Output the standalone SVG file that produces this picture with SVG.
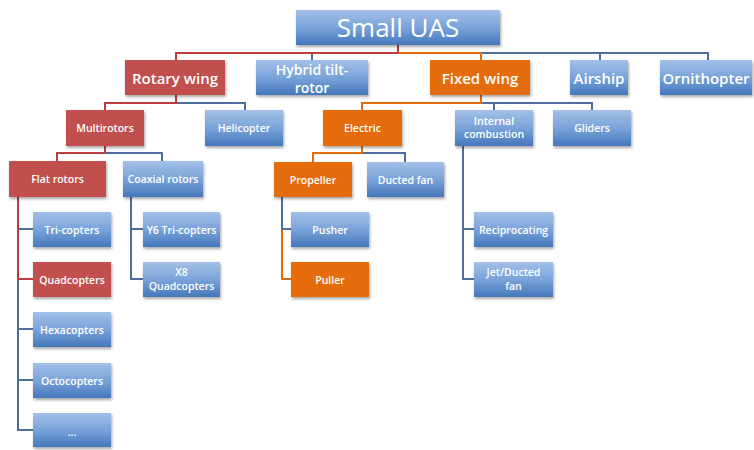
<svg xmlns="http://www.w3.org/2000/svg" width="754" height="450" viewBox="0 0 754 450">
<defs>
<linearGradient id="gb" x1="0" y1="0" x2="0" y2="1">
<stop offset="0" stop-color="#A3C0E8"/>
<stop offset="0.5" stop-color="#7AA3D9"/>
<stop offset="1" stop-color="#4478BC"/>
</linearGradient>
<filter id="sh" x="-10%" y="-10%" width="130%" height="140%">
<feGaussianBlur in="SourceAlpha" stdDeviation="1.5"/>
<feOffset dx="1" dy="2" result="b"/>
<feComponentTransfer><feFuncA type="linear" slope="0.35"/></feComponentTransfer>
<feMerge><feMergeNode/><feMergeNode in="SourceGraphic"/></feMerge>
</filter>
</defs>
<style>
.b{fill:url(#gb);filter:url(#sh)}
.r{fill:#C0504D;filter:url(#sh)}
.o{fill:#E46C0A;filter:url(#sh)}
text{font-family:"Open Sans",Lato,"Liberation Sans",sans-serif;font-weight:600;fill:#fff;text-anchor:middle;dominant-baseline:central}
.t0{font-size:26px;font-weight:400}
.t1{font-size:15px}
.t1s{font-size:14px}
.t2{font-size:10.5px}
.lr,.lo,.lb{fill:none;stroke-width:2}
.lr{stroke:#BE3C3C}
.lo{stroke:#E46C0A}
.lb{stroke:#4E6E9E}
</style>
<rect width="754" height="450" fill="#fff"/>
<g id="connectors">
<path class="lb" d="M312 53V60M481 53H708V60M600 53V60"/>
<path class="lo" d="M398 53H481V60"/>
<path class="lr" d="M398 44V53H176V60"/>
<path class="lb" d="M176 103H245V110"/>
<path class="lr" d="M176 95V103H105V110"/>
<path class="lb" d="M481 103H592V110M494 103V110"/>
<path class="lo" d="M481 95V103H362V110"/>
<path class="lb" d="M105 153H162V161"/>
<path class="lr" d="M105 146V153H57V161"/>
<path class="lb" d="M362 153H405V162"/>
<path class="lo" d="M362 146V153H313V162"/>
<path class="lb" d="M18 279V430H33M18 229H33M18 329H33M18 380H33"/>
<path class="lr" d="M18 197V279H33"/>
<path class="lb" d="M131 197V279H143M131 229H143"/>
<path class="lo" d="M282 229V279H291"/>
<path class="lb" d="M282 197V229H291"/>
<path class="lb" d="M463 146V279H474M463 229H474"/>
</g>
<g id="n-root"><rect class="b" x="296" y="10" width="204" height="35"/><text class="t0" x="398" y="27">Small UAS</text></g>
<g id="n-rotary"><rect class="r" x="125" y="60" width="100" height="35"/><text class="t1" x="175" y="77.5">Rotary wing</text></g>
<g id="n-hybrid"><rect class="b" x="256" y="60" width="112" height="35"/><text class="t1s" x="312" y="69">Hybrid tilt-</text><text class="t1s" x="312" y="87">rotor</text></g>
<g id="n-fixed"><rect class="o" x="430" y="60" width="100" height="35"/><text class="t1" x="480" y="77.5">Fixed wing</text></g>
<g id="n-airship"><rect class="b" x="570" y="60" width="58" height="35"/><text class="t1" x="599" y="77.5">Airship</text></g>
<g id="n-ornithopter"><rect class="b" x="660" y="60" width="92" height="35"/><text class="t1" x="706" y="77.5">Ornithopter</text></g>
<g id="n-multirotors"><rect class="r" x="66" y="110" width="78" height="36"/><text class="t2" x="105" y="128">Multirotors</text></g>
<g id="n-helicopter"><rect class="b" x="205" y="110" width="78" height="36"/><text class="t2" x="244" y="128">Helicopter</text></g>
<g id="n-electric"><rect class="o" x="323" y="110" width="79" height="36"/><text class="t2" x="362.5" y="128">Electric</text></g>
<g id="n-internal"><rect class="b" x="455" y="110" width="78" height="36"/><text class="t2" x="494" y="121">Internal</text><text class="t2" x="494" y="134">combustion</text></g>
<g id="n-gliders"><rect class="b" x="553" y="110" width="78" height="36"/><text class="t2" x="592" y="128">Gliders</text></g>
<g id="n-flat"><rect class="r" x="9" y="161" width="97" height="36"/><text class="t2" x="57.5" y="179">Flat rotors</text></g>
<g id="n-coaxial"><rect class="b" x="123" y="161" width="80" height="36"/><text class="t2" x="163" y="179">Coaxial rotors</text></g>
<g id="n-propeller"><rect class="o" x="274" y="162" width="78" height="35"/><text class="t2" x="313" y="179.5">Propeller</text></g>
<g id="n-ducted"><rect class="b" x="367" y="162" width="77" height="35"/><text class="t2" x="405.5" y="179.5">Ducted fan</text></g>
<g id="n-tri"><rect class="b" x="33" y="212" width="78" height="35"/><text class="t2" x="72" y="229.5">Tri-copters</text></g>
<g id="n-quad"><rect class="r" x="33" y="262" width="78" height="35"/><text class="t2" x="72" y="279.5">Quadcopters</text></g>
<g id="n-hexa"><rect class="b" x="33" y="312" width="78" height="35"/><text class="t2" x="72" y="329.5">Hexacopters</text></g>
<g id="n-octo"><rect class="b" x="33" y="363" width="78" height="35"/><text class="t2" x="72" y="380.5">Octocopters</text></g>
<g id="n-more"><rect class="b" x="33" y="413" width="78" height="34"/><text class="t2" x="72" y="432">...</text></g>
<g id="n-y6"><rect class="b" x="143" y="212" width="77" height="35"/><text class="t2" x="181.5" y="229.5">Y6 Tri-copters</text></g>
<g id="n-x8"><rect class="b" x="143" y="262" width="77" height="35"/><text class="t2" x="181.5" y="272">X8</text><text class="t2" x="181.5" y="286">Quadcopters</text></g>
<g id="n-pusher"><rect class="b" x="291" y="212" width="78" height="35"/><text class="t2" x="330" y="229.5">Pusher</text></g>
<g id="n-puller"><rect class="o" x="291" y="262" width="78" height="35"/><text class="t2" x="330" y="279.5">Puller</text></g>
<g id="n-recip"><rect class="b" x="474" y="212" width="79" height="35"/><text class="t2" x="513.5" y="229.5">Reciprocating</text></g>
<g id="n-jet"><rect class="b" x="474" y="262" width="79" height="35"/><text class="t2" x="513.5" y="272">Jet/Ducted</text><text class="t2" x="513.5" y="286">fan</text></g>
</svg>
